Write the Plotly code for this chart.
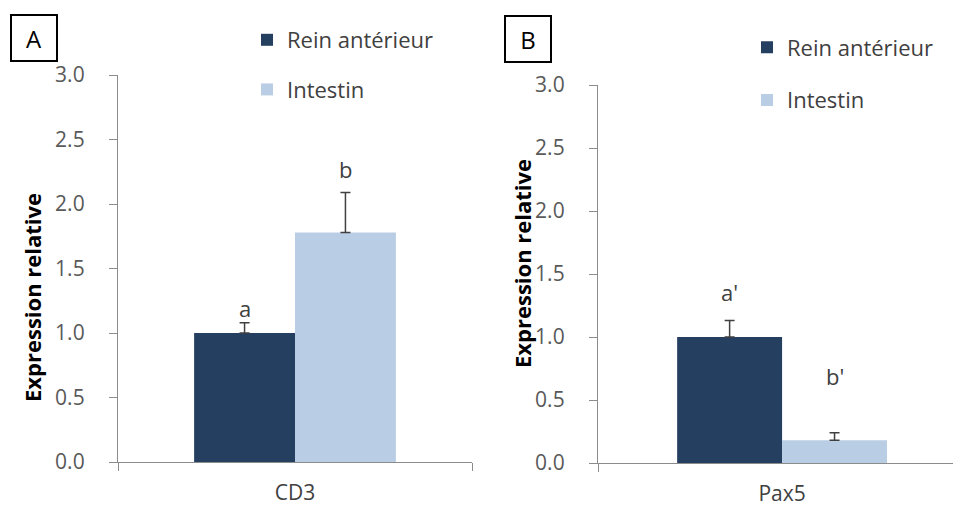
import plotly.graph_objects as go

# ---- data ----
series_names = ["Rein antérieur", "Intestin"]
categories_A = ["CD3"]
categories_B = ["Pax5"]
values_A = [1.00, 1.78]
errors_A = [0.08, 0.31]
values_B = [1.00, 0.18]
errors_B = [0.13, 0.06]
letters_A = ["a", "b"]
letters_A_y = [1.19, 2.27]
letters_B = ["a'", "b'"]
letters_B_y = [1.36, 0.69]
y_ticks = [0.0, 0.5, 1.0, 1.5, 2.0, 2.5, 3.0]
y_title = "Expression relative"

colors = ["#243F60", "#B9CDE5"]
err_color = "#404040"
axis_color = "#8C8C8C"
text_color = "#404040"
FONT = "Open Sans"

# page body has an 8px margin; size the figure to fill the 961x508 window
OFF = 8
W, H = 961 - OFF, 508 - OFF


def px(X):
    return (X - OFF) / W


def py(Y):
    return 1 - (Y - OFF) / H


fig = go.Figure()

panels = [
    ("x", "y", categories_A, values_A, errors_A, "legend"),
    ("x2", "y2", categories_B, values_B, errors_B, "legend2"),
]
for xa, ya, cats, vals, errs, leg in panels:
    for i, name in enumerate(series_names):
        fig.add_trace(go.Bar(
            x=cats, y=[vals[i]], name=name, xaxis=xa, yaxis=ya,
            marker=dict(color=colors[i], line=dict(width=0)),
            error_y=dict(type="data", symmetric=False, array=[errs[i]], arrayminus=[0],
                         color=err_color, thickness=1.5, width=5),
            legend=leg, legendgroup=f"{leg}{i}", showlegend=True,
        ))

# letters above bars
offs = [-0.1425, 0.1425]
annotations = []
for txts, ys, xr, yr in [(letters_A, letters_A_y, "x", "y"), (letters_B, letters_B_y, "x2", "y2")]:
    for i, t in enumerate(txts):
        annotations.append(dict(x=offs[i], y=ys[i], xref=xr, yref=yr, text=t, showarrow=False,
                                xanchor="center", yanchor="middle",
                                font=dict(family=FONT, size=22, color=text_color)))

# panel labels
for lab, X, Y in [("A", 34, 38), ("B", 528, 39)]:
    annotations.append(dict(x=px(X), y=py(Y), xref="paper", yref="paper", text=lab, showarrow=False,
                            xanchor="center", yanchor="middle", width=42, height=42,
                            bordercolor="#000000", borderwidth=2, borderpad=1, bgcolor="white",
                            font=dict(family=FONT, size=24, color="#000000")))

# y-axis titles
for X, Y in [(32, 298), (522, 264)]:
    annotations.append(dict(x=px(X), y=py(Y), xref="paper", yref="paper", text=f"<b>{y_title}</b>",
                            showarrow=False, textangle=-90, xanchor="center", yanchor="middle",
                            font=dict(family=FONT, size=22, color="#000000")))

yaxis_common = dict(range=[0, 3], tickvals=y_ticks, tickformat=".1f", ticks="outside", ticklen=8,
                    tickcolor=axis_color, showline=True, linecolor=axis_color, linewidth=1.3,
                    showgrid=False, zeroline=False, ticklabelstandoff=20, automargin=False,
                    tickfont=dict(family=FONT, size=21, color="#595959"))
xaxis_common = dict(type="category", tickson="boundaries", ticks="outside", ticklen=8,
                    tickcolor=axis_color, showline=True, linecolor=axis_color, linewidth=1.3,
                    showgrid=False, zeroline=False, ticklabelstandoff=12, automargin=False,
                    tickfont=dict(family=FONT, size=21, color=text_color))

legend_common = dict(font=dict(family=FONT, size=22, color=text_color), bgcolor="rgba(0,0,0,0)",
                     traceorder="grouped", xanchor="left", yanchor="middle",
                     itemclick=False, itemdoubleclick=False)

fig.update_layout(
    width=W, height=H,
    margin=dict(l=0, r=0, t=0, b=0, autoexpand=False),
    paper_bgcolor="white", plot_bgcolor="white",
    barmode="group", bargap=0.43, bargroupgap=0,
    showlegend=True,
    xaxis=dict(domain=[px(118), px(472)], range=[-0.5, 0.5], anchor="y", **xaxis_common),
    yaxis=dict(domain=[py(462), py(75)], anchor="x", **yaxis_common),
    xaxis2=dict(domain=[px(598), 1.0], range=[-0.5, 0.486], anchor="y2", **xaxis_common),
    yaxis2=dict(domain=[py(463), py(85)], anchor="x2", **yaxis_common),
    legend=dict(x=px(247), y=py(65), tracegroupgap=18, **legend_common),
    legend2=dict(x=px(747), y=py(74), tracegroupgap=21, **legend_common),
    annotations=annotations,
)

fig.write_html("out.html")
